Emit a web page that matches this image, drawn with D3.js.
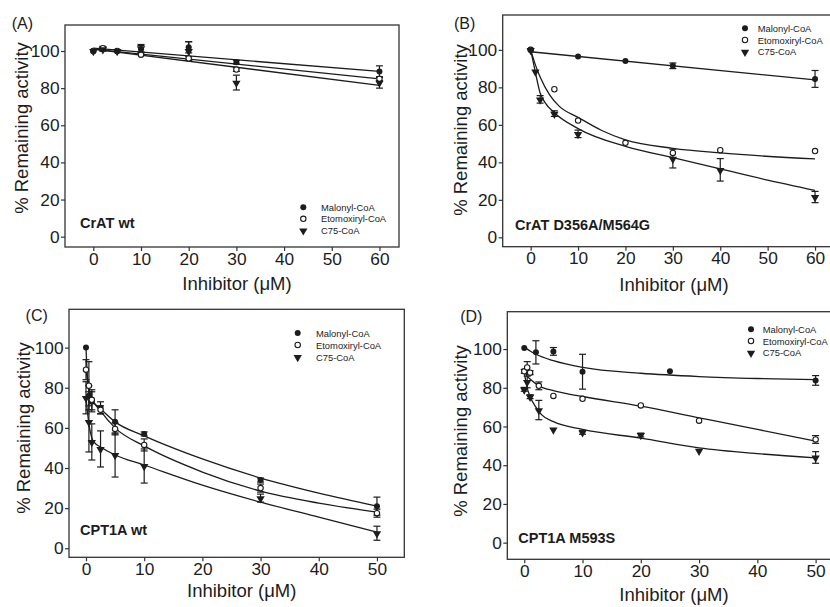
<!DOCTYPE html>
<html>
<head>
<meta charset="utf-8">
<script src="https://cdn.jsdelivr.net/npm/d3@7"></script>
<style>
  html, body { margin: 0; padding: 0; background: #fff; }
  svg { display: block; font-family: "Liberation Sans", Arial, sans-serif; }
</style>
</head>
<body>
<svg id="chart" width="830" height="607"></svg>
<script>
// ---------------- DATA ----------------
const panelLetters = ["(A)", "(B)", "(C)", "(D)"];
const panelNames = ["CrAT wt", "CrAT D356A/M564G", "CPT1A wt", "CPT1A M593S"];
const seriesNames = ["Malonyl-CoA", "Etomoxiryl-CoA", "C75-CoA"];
const xTicksCrAT = [0, 10, 20, 30, 40, 50, 60];
const xTicksCPT = [0, 10, 20, 30, 40, 50];
const yTicks = [0, 20, 40, 60, 80, 100];
const xTitle = "Inhibitor (\u03BCM)";
const yTitle = "% Remaining activity";

// points: [inhibitor µM, % remaining, error]
const A_malonyl = [[0,100,0.5],[2,101,1],[5,100,0.5],[10,101,2],[20,102,3],[30,94,1],[60,89,3]];
const A_etomox  = [[0,100,0.5],[2,101.5,1],[5,100,0.5],[10,98,0.5],[20,96,1],[30,90,1],[60,85,1]];
const A_c75     = [[0,100,0.5],[2,101,1],[5,100,0.5],[10,101.5,2],[20,100,5],[30,83,4],[60,83,3]];
const A_malonylFit = [[0,101.5],[60,89]];
const A_etomoxFit  = [[0,101],[60,85]];
const A_c75Fit     = [[0,101],[60,81.5]];

const B_malonyl = [[0,100,0.5],[10,96.5,0.5],[20,94,0.5],[30,91.5,1.5],[60,84.5,4.5]];
const B_etomox  = [[0,100,0],[5,79,0],[10,62.3,0],[20,50.4,0],[30,45,0],[40,46.5,0],[60,46,0]];
const B_c75     = [[0,100,0.5],[1,88.5,0.5],[2,73.6,2],[5,66,1.5],[10,55.2,2],[30,42,5],[40,36,6],[60,21.5,3]];
const B_malonylFit = [[0,99],[60,84]];
const B_etomoxFit  = [[0,100],[1,92],[2,85.5],[4,76],[6,70],[10,64],[15,57],[20,52],[30,47.5],[40,45],[60,41.8]];
const B_c75Fit     = [[0,100],[1,88],[2,77],[3,72],[5,66.5],[10,58],[20,48.5],[30,42.5],[40,36.5],[50,30.5],[60,25]];

const C_malonyl = [[0,100,0],[0.5,76,5],[1,73,5],[2.5,70,3],[5,63,6],[10,57,1],[30,34,1],[50,21,4.5]];
const C_etomox  = [[0,89,5],[0.5,81,12],[1,74,5],[2.5,69,2],[5,59.5,3],[10,51.5,3],[30,30,2],[50,17.5,2]];
const C_c75     = [[0,75,8],[0.5,63,15],[1,53,9],[2.5,49.5,9],[5,46.5,11],[10,41,8.5],[30,25,2],[50,7.5,3.5]];
const C_malonylFit = [[0,100],[0.25,85],[0.5,78],[1,74],[2.5,69.5],[5,63],[10,56],[20,44.5],[30,35],[40,27.5],[50,21]];
const C_etomoxFit  = [[0,89],[0.5,80],[1,75],[2.5,68.5],[5,60],[10,51],[20,38],[30,28.5],[40,22.5],[50,18]];
const C_c75Fit     = [[0,75],[0.5,62],[1,55],[1.5,52.5],[2.5,50.5],[5,46.5],[10,41.5],[20,31.5],[30,23],[40,15.5],[50,8]];

const D_malonyl = [[0,100.5,0],[2,98.3,6],[5,98.8,2],[10,88.3,9],[25,88.6,0.8],[50,83.8,2.5]];
const D_etomox  = [[0,88.5,1],[0.5,90.5,3],[1,87.8,1],[2.5,81,2],[5,75.8,0.5],[10,74.3,0.5],[20,70.9,0.5],[30,63,0.5],[50,53.3,2]];
const D_c75     = [[0,79.2,1],[0.5,83,3],[1,75.4,1],[2.5,68.5,5],[5,58.5,0.5],[10,57,1],[20,55.6,1],[30,47.5,0.5],[50,44,3]];
const D_malonylFit = [[0,101],[1,99],[2,97.3],[5,94],[10,90.5],[20,87.5],[30,85.8],[40,84.8],[50,84.2]];
const D_etomoxFit  = [[0,89],[0.5,86],[1,84.5],[2.5,81],[5,78.5],[10,75.5],[20,70.5],[30,64.5],[40,58.5],[50,52.5]];
const D_c75Fit     = [[0,88],[0.5,80],[1,75.5],[2,70],[3,66],[5,62.5],[10,58.5],[20,54],[30,49],[40,46],[50,43.8]];

// ---------------- LAYOUT ----------------
const panels = [
  { pts: [A_malonyl, A_etomox, A_c75], fits: [A_malonylFit, A_etomoxFit, A_c75Fit], xt: xTicksCrAT,
    L: 65, R: 399, T: 25, B: 247, xd: [-5.94, 64.1], yd: [-5.55, 114],
    ylab: [21.7, 128], xlab: [237, 283], plab: [22.3, 23], name: [80, 223], leg: [303.3, 207.3, 321, 11.5] },
  { pts: [B_malonyl, B_etomox, B_c75], fits: [B_malonylFit, B_etomoxFit, B_c75Fit], xt: xTicksCrAT,
    L: 502.7, R: 834, T: 15, B: 246.7, xd: [-5.9, 64], yd: [-5, 118.6],
    ylab: [460, 130], xlab: [674, 284], plab: [464.7, 23.5], name: [515, 225], leg: [745, 28.3, 757.7, 11.7] },
  { pts: [C_malonyl, C_etomox, C_c75], fits: [C_malonylFit, C_etomoxFit, C_c75Fit], xt: xTicksCPT,
    L: 69, R: 404.3, T: 309.3, B: 557.3, xd: [-2.92, 54.7], yd: [-4.5, 119.1],
    ylab: [23.3, 428], xlab: [241.7, 590], plab: [36.7, 315.5], name: [80, 530], leg: [297.7, 333, 316, 12] },
  { pts: [D_malonyl, D_etomox, D_c75], fits: [D_malonylFit, D_etomoxFit, D_c75Fit], xt: xTicksCPT,
    L: 507.3, R: 843, T: 311.7, B: 559.3, xd: [-2.91, 54.7], yd: [-8.6, 119.3],
    ylab: [460, 431], xlab: [674, 594], plab: [471.3, 316.5], name: [518.3, 537.5], leg: [751, 329.3, 762.7, 11.7] }
];

const ink = "#1c1c1c";
const svg = d3.select("#chart");

function marker(g, k, x, y) {
  if (k === 0) {
    g.append("circle").attr("cx", x).attr("cy", y).attr("r", 3).attr("fill", ink);
  } else if (k === 1) {
    g.append("circle").attr("cx", x).attr("cy", y).attr("r", 2.7)
      .attr("fill", "#fff").attr("stroke", ink).attr("stroke-width", 1.1);
  } else {
    g.append("path").attr("d", d3.symbol(d3.symbolTriangle, 30)())
      .attr("transform", `translate(${x},${y + 0.5}) rotate(180)`).attr("fill", ink);
  }
}

panels.forEach((p, i) => {
  const x = d3.scaleLinear().domain(p.xd).range([p.L, p.R]);
  const y = d3.scaleLinear().domain(p.yd).range([p.B, p.T]);
  const g = svg.append("g");

  // frame
  g.append("rect").attr("x", p.L).attr("y", p.T).attr("width", p.R - p.L).attr("height", p.B - p.T)
    .attr("fill", "none").attr("stroke", "#333").attr("stroke-width", 1.3);

  // axes
  const xAxis = g.append("g").attr("transform", `translate(0,${p.B})`)
    .call(d3.axisBottom(x).tickValues(p.xt).tickSize(4).tickPadding(1.5).tickFormat(d3.format("d")));
  const yAxis = g.append("g").attr("transform", `translate(${p.L},0)`)
    .call(d3.axisLeft(y).tickValues(yTicks).tickSize(4).tickPadding(1.5).tickFormat(d3.format("d")));
  [xAxis, yAxis].forEach(a => {
    a.select(".domain").remove();
    a.selectAll(".tick line").attr("stroke", "#333").attr("stroke-width", 1.2);
    a.selectAll(".tick text").attr("fill", ink).style("font-size", "17.3px")
      .style("font-family", "'Liberation Sans', Arial, sans-serif");
  });

  // titles
  g.append("text").attr("x", p.xlab[0]).attr("y", p.xlab[1]).attr("text-anchor", "middle")
    .attr("dominant-baseline", "central").attr("fill", ink).style("font-size", "18.5px").text(xTitle);
  g.append("text").attr("transform", `translate(${p.ylab[0]},${p.ylab[1]}) rotate(-90)`)
    .attr("text-anchor", "middle").attr("dominant-baseline", "central").attr("fill", ink)
    .style("font-size", "18.5px").text(yTitle);
  g.append("text").attr("x", p.plab[0]).attr("y", p.plab[1]).attr("text-anchor", "middle")
    .attr("dominant-baseline", "central").attr("fill", ink).style("font-size", "16px").text(panelLetters[i]);
  g.append("text").attr("x", p.name[0]).attr("y", p.name[1]).attr("dominant-baseline", "central")
    .attr("fill", ink).style("font-size", "14.5px").style("font-weight", "bold").text(panelNames[i]);

  // fit curves
  const line = d3.line().x(d => x(d[0])).y(d => y(d[1])).curve(d3.curveMonotoneX);
  p.fits.forEach(f => {
    g.append("path").attr("d", line(f)).attr("fill", "none").attr("stroke", ink).attr("stroke-width", 1.3);
  });

  // error bars
  p.pts.forEach(s => {
    s.forEach(d => {
      if (d[2] > 0.8) {
        const cx = x(d[0]), y1 = y(d[1] + d[2]), y2 = y(d[1] - d[2]);
        g.append("line").attr("x1", cx).attr("x2", cx).attr("y1", y1).attr("y2", y2)
          .attr("stroke", ink).attr("stroke-width", 1.2);
        [y1, y2].forEach(yy => g.append("line").attr("x1", cx - 3.5).attr("x2", cx + 3.5)
          .attr("y1", yy).attr("y2", yy).attr("stroke", ink).attr("stroke-width", 1.2));
      }
    });
  });

  // markers
  p.pts.forEach((s, k) => s.forEach(d => marker(g, k, x(d[0]), y(d[1]))));

  // legend
  seriesNames.forEach((n, k) => {
    const yy = p.leg[1] + k * p.leg[3];
    marker(g, k, p.leg[0], yy);
    g.append("text").attr("x", p.leg[2]).attr("y", yy).attr("dominant-baseline", "central")
      .attr("fill", ink).style("font-size", "9.4px").text(n);
  });
});
</script>
</body>
</html>
